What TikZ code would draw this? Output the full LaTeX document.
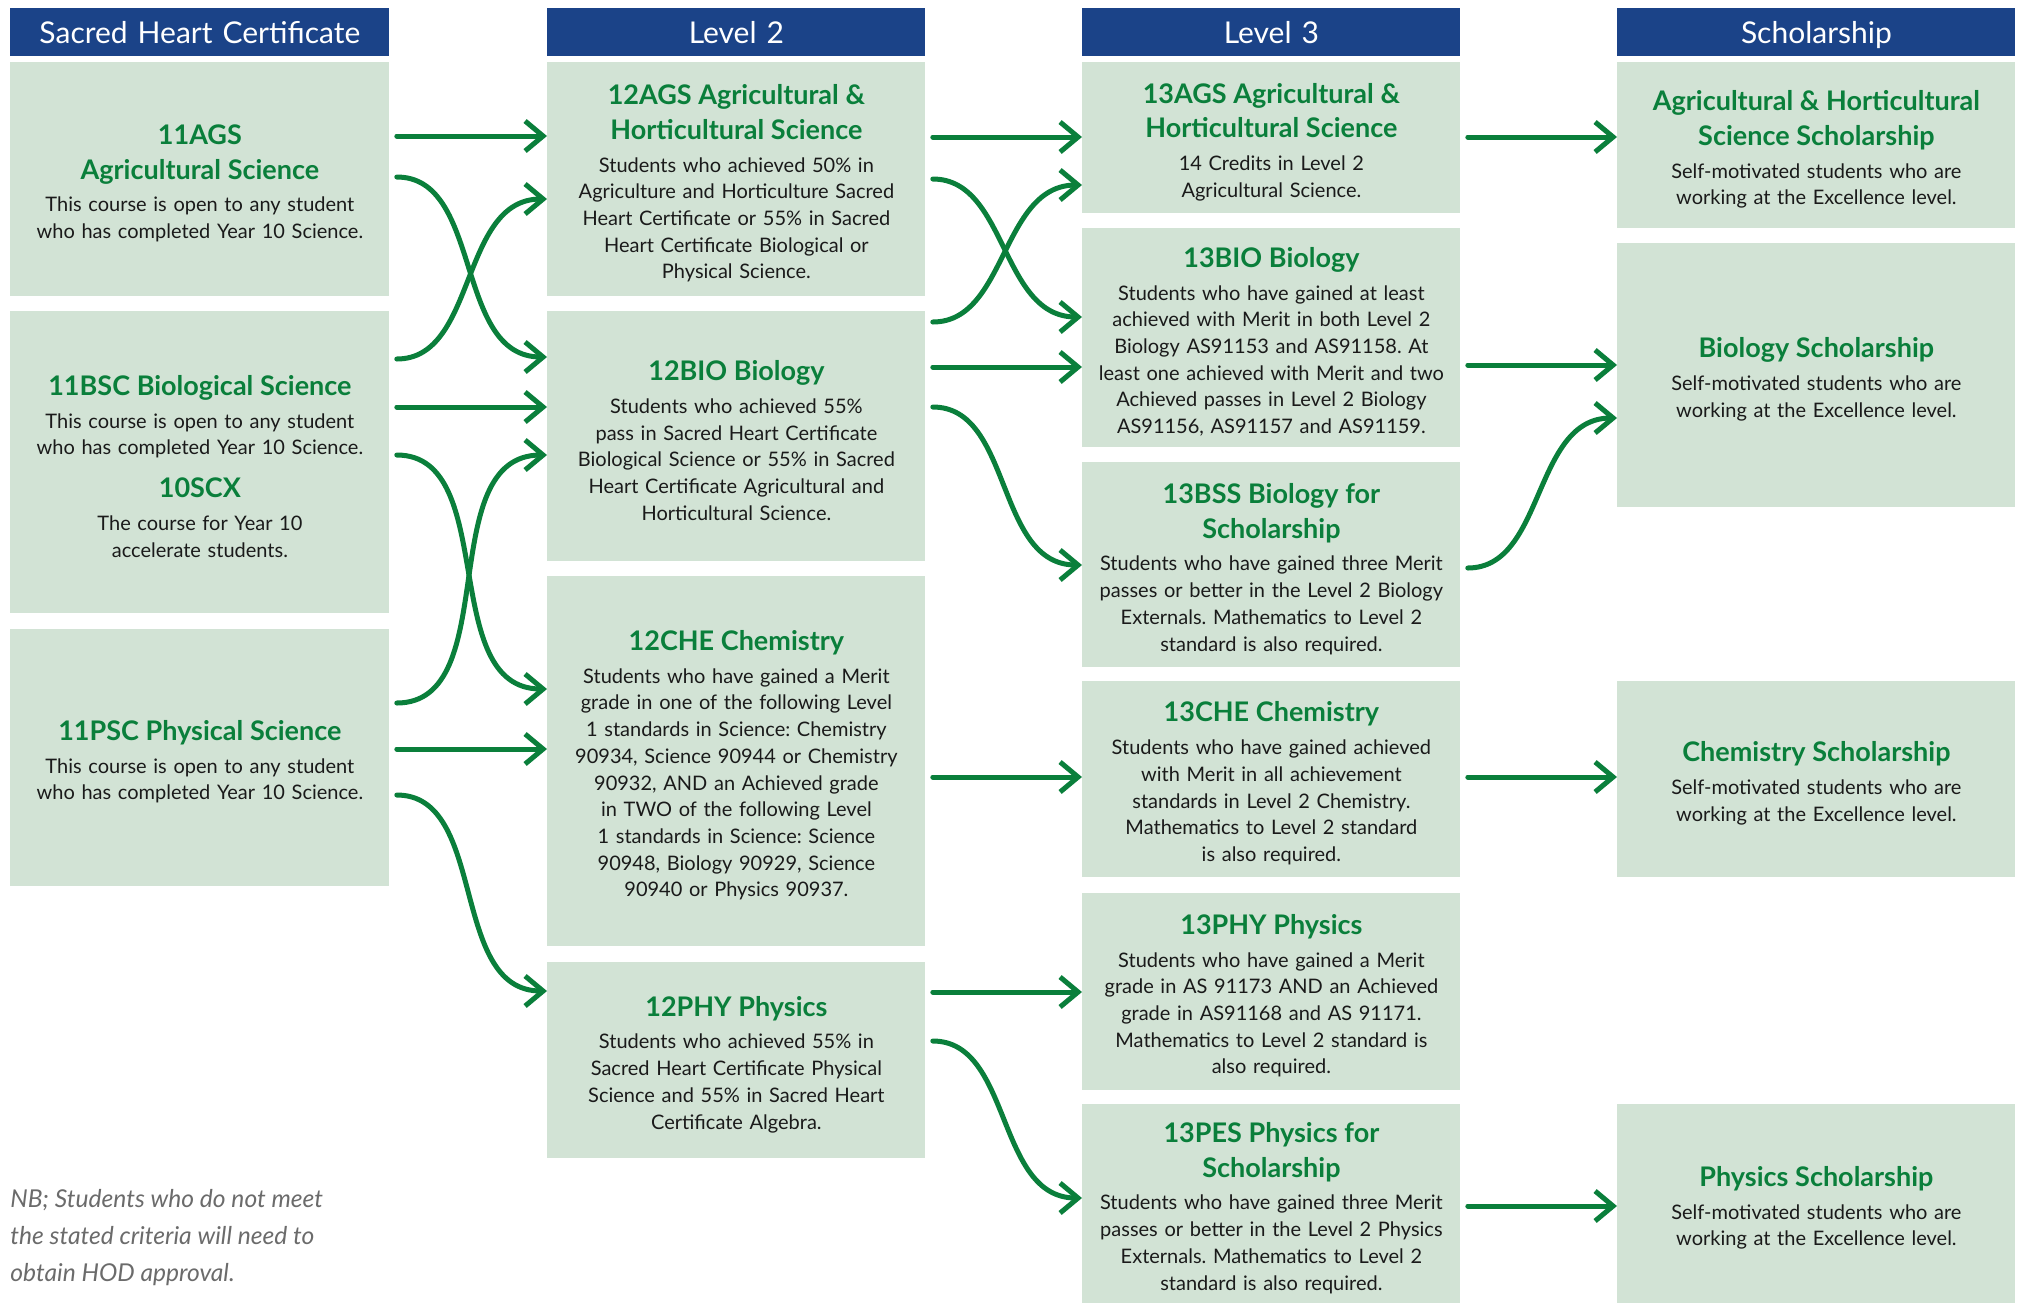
\documentclass[tikz,border=0pt]{standalone}
\usepackage{fontspec}
\setmainfont{Lato}
\usetikzlibrary{arrows.meta}
\definecolor{hblue}{HTML}{1B4388}
\definecolor{boxfill}{HTML}{D2E3D5}
\definecolor{hgreen}{HTML}{0A7F3B}
\definecolor{nbgray}{HTML}{6B6B6B}
\definecolor{txt}{HTML}{1A1A1A}
\frenchspacing
\newcommand\ttl[1]{{\fontsize{13.5}{17.4}\selectfont\bfseries\color{hgreen}#1\par}\vspace{3pt}}
\newcommand\bdy[1]{{\fontsize{10}{13.35}\selectfont\color{txt}#1\par}}
\newcommand\boxtail{\par\vspace{-4pt}}
\newcommand\conn[4]{\draw[arr] (#1.east |- 0,#2) to[out=0,in=180] (#3.west |- 0,#4);}
\begin{document}
\begin{tikzpicture}[x=0.5pt,y=-0.5pt,
  hdr/.style={fill=hblue,text=white,anchor=north west,inner sep=0pt,minimum height=24pt,text height=10.8pt,text depth=0pt,align=center,font=\fontsize{15}{18}\selectfont},
  box/.style={fill=boxfill,anchor=north west,inner sep=0pt,align=center,execute at end node=\boxtail},
  cA/.style={minimum width=189.5pt,text width=186pt},
  cB/.style={minimum width=189pt,text width=186pt},
  cD/.style={minimum width=199pt,text width=196pt},
  arr/.style={draw=hgreen,line width=2.5pt,line cap=round,shorten <=3.5pt,-{Straight Barb[length=9pt,width=15pt]}}]
\useasboundingbox (0,0) rectangle (2020,1303);
% headers
\node[hdr,cA] (h1) at (10,8) {Sacred Heart Certificate};
\node[hdr,cB] (h2) at (547,8) {Level 2};
\node[hdr,cB] (h3) at (1082,8) {Level 3};
\node[hdr,cD] (h4) at (1617,8) {Scholarship};
% column 1
\node[box,cA,minimum height=117pt] (ags11) at (10,62) {\ttl{11AGS\\Agricultural Science}\bdy{This course is open to any student\\who has completed Year 10 Science.}};
\node[box,cA,minimum height=151pt] (bsc11) at (10,311) {\ttl{11BSC Biological Science}\bdy{This course is open to any student\\who has completed Year 10 Science.}\vspace{4pt}\ttl{10SCX}\bdy{The course for Year 10\\accelerate students.}};
\node[box,cA,minimum height=128.5pt] (psc11) at (10,629) {\ttl{11PSC Physical Science}\bdy{This course is open to any student\\who has completed Year 10 Science.}};
% column 2
\node[box,cB,minimum height=117pt] (ags12) at (547,62) {\ttl{12AGS Agricultural \&\\Horticultural Science}\bdy{Students who achieved 50\% in\\Agriculture and Horticulture Sacred\\Heart Certificate or 55\% in Sacred\\Heart Certificate Biological or\\Physical Science.}};
\node[box,cB,minimum height=125pt] (bio12) at (547,311) {\ttl{12BIO Biology}\bdy{Students who achieved 55\%\\pass in Sacred Heart Certificate\\Biological Science or 55\% in Sacred\\Heart Certificate Agricultural and\\Horticultural Science.}};
\node[box,cB,minimum height=185pt] (che12) at (547,576) {\ttl{12CHE Chemistry}\bdy{Students who have gained a Merit\\grade in one of the following Level\\1 standards in Science: Chemistry\\90934, Science 90944 or Chemistry\\90932, AND an Achieved grade\\in TWO of the following Level\\1 standards in Science: Science\\90948, Biology 90929, Science\\90940 or Physics 90937.}};
\node[box,cB,minimum height=98pt] (phy12) at (547,962) {\ttl{12PHY Physics}\bdy{Students who achieved 55\% in\\Sacred Heart Certificate Physical\\Science and 55\% in Sacred Heart\\Certificate Algebra.}};
% column 3
\node[box,cB,minimum height=75.5pt] (ags13) at (1082,62) {\ttl{13AGS Agricultural \&\\Horticultural Science}\bdy{14 Credits in Level 2\\Agricultural Science.}};
\node[box,cB,minimum height=109.5pt] (bio13) at (1082,228) {\ttl{13BIO Biology}\bdy{Students who have gained at least\\achieved with Merit in both Level 2\\Biology AS91153 and AS91158. At\\least one achieved with Merit and two\\Achieved passes in Level 2 Biology\\AS91156, AS91157 and AS91159.}};
\node[box,cB,minimum height=102.5pt] (bss13) at (1082,462) {\ttl{13BSS Biology for\\Scholarship}\bdy{Students who have gained three Merit\\passes or better in the Level 2 Biology\\Externals. Mathematics to Level 2\\standard is also required.}};
\node[box,cB,minimum height=98pt] (che13) at (1082,681) {\ttl{13CHE Chemistry}\bdy{Students who have gained achieved\\with Merit in all achievement\\standards in Level 2 Chemistry.\\Mathematics to Level 2 standard\\is also required.}};
\node[box,cB,minimum height=98.5pt] (phy13) at (1082,893) {\ttl{13PHY Physics}\bdy{Students who have gained a Merit\\grade in AS 91173 AND an Achieved\\grade in AS91168 and AS 91171.\\Mathematics to Level 2 standard is\\also required.}};
\node[box,cB,minimum height=99.5pt] (pes13) at (1082,1104) {\ttl{13PES Physics for\\Scholarship}\bdy{Students who have gained three Merit\\passes or better in the Level 2 Physics\\Externals. Mathematics to Level 2\\standard is also required.}};
% column 4
\node[box,cD,minimum height=83pt] (agS) at (1617,62) {\ttl{Agricultural \& Horticultural\\Science Scholarship}\bdy{Self-motivated students who are\\working at the Excellence level.}};
\node[box,cD,minimum height=132pt] (bioS) at (1617,243) {\ttl{Biology Scholarship}\bdy{Self-motivated students who are\\working at the Excellence level.}};
\node[box,cD,minimum height=98pt] (cheS) at (1617,681) {\ttl{Chemistry Scholarship}\bdy{Self-motivated students who are\\working at the Excellence level.}};
\node[box,cD,minimum height=99.5pt] (phyS) at (1617,1104) {\ttl{Physics Scholarship}\bdy{Self-motivated students who are\\working at the Excellence level.}};
% note
\node[anchor=north west,inner sep=0pt,align=left,text=nbgray,font=\fontsize{12.3}{18.5}\selectfont\itshape] (nb) at (10,1189) {NB; Students who do not meet\\the stated criteria will need to\\obtain HOD approval.};
% connectors col1 -> col2
\conn{ags11}{136}{ags12}{136}
\conn{ags11}{177}{bio12}{357}
\conn{bsc11}{359}{ags12}{199}
\conn{bsc11}{407}{bio12}{407}
\conn{bsc11}{455}{che12}{689}
\conn{psc11}{703}{bio12}{455}
\conn{psc11}{749}{che12}{749}
\conn{psc11}{795}{phy12}{991}
% col2 -> col3
\conn{ags12}{137}{ags13}{137}
\conn{ags12}{179}{bio13}{317}
\conn{bio12}{322}{ags13}{185}
\conn{bio12}{367}{bio13}{367}
\conn{bio12}{407}{bss13}{565}
\conn{che12}{777}{che13}{777}
\conn{phy12}{992}{phy13}{992}
\conn{phy12}{1041}{pes13}{1198}
% col3 -> col4
\conn{ags13}{137}{agS}{137}
\conn{bio13}{365}{bioS}{365}
\conn{bss13}{568}{bioS}{418}
\conn{che13}{777}{cheS}{777}
\conn{pes13}{1206}{phyS}{1206}
\end{tikzpicture}
\end{document}
